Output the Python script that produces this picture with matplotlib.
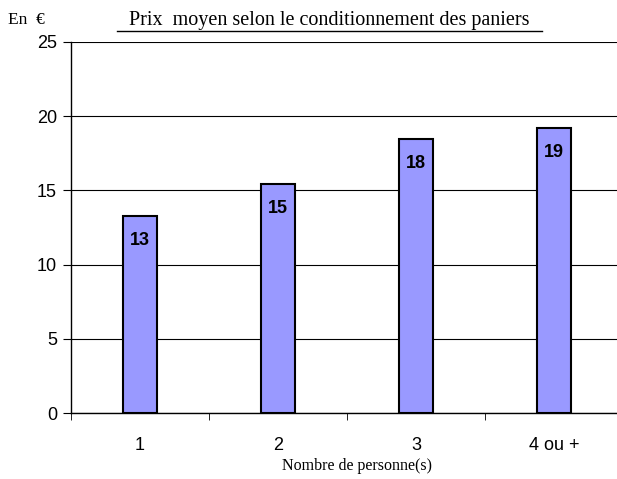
import matplotlib.pyplot as plt
import numpy as np

categories = ["1", "2", "3", "4 ou +"]
prix = [13.27, 15.43, 18.44, 19.18]
labels = ["13", "15", "18", "19"]

fig = plt.figure(figsize=(6.17, 4.79), dpi=100)
ax = fig.add_axes([71/617, 1 - 413/479, 552/617, 371/479])

x = np.arange(len(categories))
bars = ax.bar(x, prix, width=0.25, color="#9999ff", edgecolor="black", linewidth=1.5, zorder=3)

for b, lab in zip(bars, labels):
    ax.annotate(lab, (b.get_x() + b.get_width() / 2, b.get_height()),
                xytext=(0, -11.5), textcoords="offset points", ha="center", va="top",
                fontsize=13, fontweight="bold", family="Liberation Sans", zorder=4)

ax.set_xlim(-0.5, 3.5)
ax.set_ylim(0, 25)
ax.set_yticks([0, 5, 10, 15, 20, 25])
ax.yaxis.grid(True, color="black", linewidth=0.8, zorder=0)
ax.set_xticks(x)
ax.set_xticklabels(categories, family="Liberation Sans", fontsize=13)
ax.set_xticks(np.arange(-0.5, 4, 1), minor=True)
ax.tick_params(axis="x", which="major", length=0, pad=17)
ax.tick_params(axis="x", which="minor", length=5, direction="out")
ax.tick_params(axis="y", length=6, direction="out", labelsize=13, pad=4)
for t in ax.get_yticklabels():
    t.set_family("Liberation Sans")

for s in ["top", "right"]:
    ax.spines[s].set_visible(False)
ax.spines["left"].set_linewidth(1)
ax.spines["bottom"].set_linewidth(1)

# axis titles and chart title placed in figure coords
fig.text(357/617, 1 - 466/479, "Nombre de personne(s)", family="Liberation Serif",
         fontsize=11.5, ha="center", va="center")
fig.text(8/617, 1 - 20/479, "En  €", family="Liberation Serif", fontsize=12.5, va="center")
fig.text(329/617, 1 - 21/479, "Prix  moyen selon le conditionnement des paniers",
         family="Liberation Serif", fontsize=14.5, ha="center", va="center")
fig.add_artist(plt.Line2D([117/617, 542/617], [1 - 31/479, 1 - 31/479], color="black", linewidth=1))

fig.savefig("out.png", dpi=100)
